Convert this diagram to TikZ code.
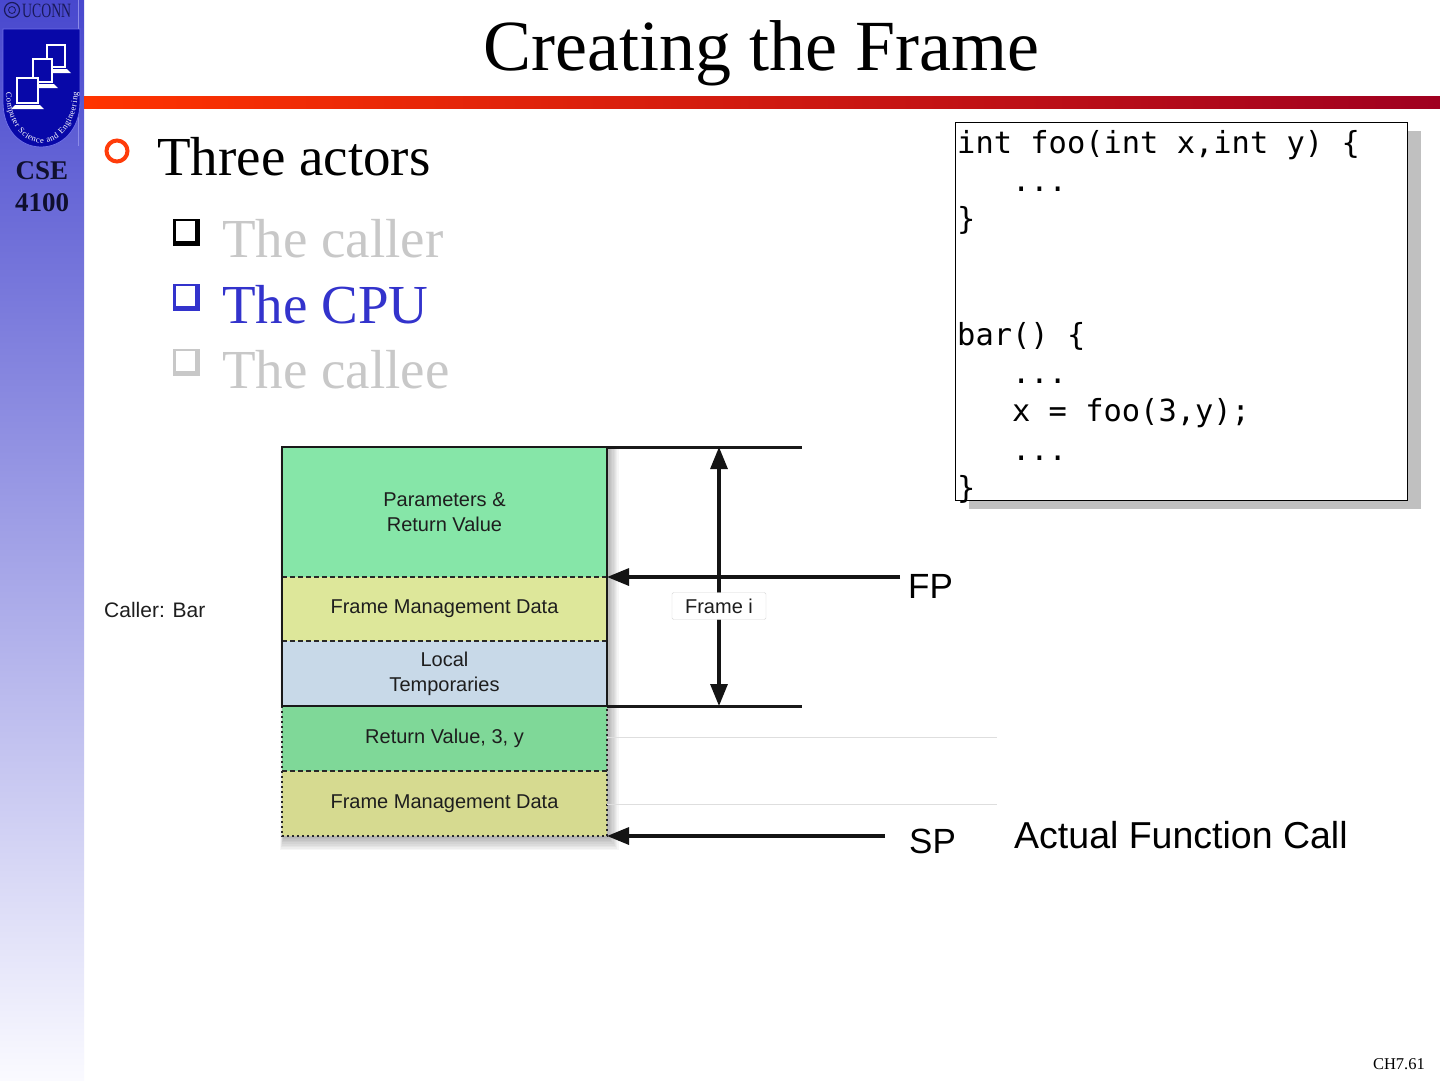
\documentclass[tikz,border=0pt]{standalone}
\usepackage{fontspec}
\setmainfont{Liberation Serif}
\setsansfont{Liberation Sans}
\setmonofont{DejaVu Sans Mono}
\usetikzlibrary{arrows.meta,positioning,decorations.text}
\definecolor{sidetop}{RGB}{72,72,206}
\definecolor{sidebot}{RGB}{250,250,255}
\definecolor{shieldblue}{RGB}{8,8,168}
\definecolor{barleft}{RGB}{255,52,0}
\definecolor{barright}{RGB}{160,0,32}
\definecolor{ringred}{RGB}{255,60,10}
\definecolor{fadegray}{RGB}{200,200,200}
\definecolor{cpublue}{RGB}{51,51,204}
\definecolor{paramgreen}{RGB}{134,230,168}
\definecolor{mgmtyellow}{RGB}{221,231,154}
\definecolor{localblue}{RGB}{200,217,232}
\definecolor{retgreen}{RGB}{127,216,152}
\definecolor{mgmtyellowb}{RGB}{214,218,144}
\def\sqbullet(#1,#2)#3{\fill[#3] (#1,#2) rectangle ++(27,27); \fill[white, shift={(#1,#2)}] (3,2) rectangle (22,22);}

\begin{document}
\begin{tikzpicture}[x=1pt, y=-1pt,
    arr/.style={line width=3.2pt, draw={rgb,255:red,20;green,20;blue,20}, -{Triangle[length=22pt,width=17pt]}},
    dblarr/.style={arr, {Triangle[length=22pt,width=17pt]}-{Triangle[length=22pt,width=17pt]}},
    frameline/.style={line width=3pt, draw={rgb,255:red,25;green,25;blue,25}},
    row/.style={minimum width=325pt, inner sep=0pt, outer sep=0pt, align=center,
        font=\sffamily\fontsize{20}{25}\selectfont, text={rgb,255:red,30;green,30;blue,30}},
    code/.style={anchor=base west, inner sep=0pt, font=\ttfamily\fontsize{30.4}{38}\selectfont},
    item/.style={anchor=base west, inner sep=0pt, font=\fontsize{55}{60}\selectfont}]
    %%%%% START %%%%%

    \useasboundingbox (0,0) rectangle (1440,1080);
    \fill[white] (0,0) rectangle (1440,1080);

    % side bar and logo
    \shade[top color=sidetop, bottom color=sidebot] (0,0) rectangle (84,1080);
    \draw[color={rgb,255:red,140;green,140;blue,232}] (78,0) -- (78,146);
    \draw[line width=1.2pt, color={rgb,255:red,25;green,25;blue,90}] (12,10) circle (7.5);
    \draw[line width=0.8pt, color={rgb,255:red,25;green,25;blue,90}] (12,10) circle (3.5);
    \node[anchor=west, inner sep=0pt, xscale=0.95, yscale=1.4, color={rgb,255:red,25;green,25;blue,90},
        font=\fontsize{14.5}{15}\selectfont] (uconn) at (22,11) {UCONN};
    \filldraw[fill=shieldblue, draw={rgb,255:red,110;green,110;blue,230}, line width=0.8pt]
        (3,29) -- (80,29) -- (80,102) .. controls (80,130) and (62,147) .. (41,147)
        .. controls (20,147) and (3,130) .. (3,102) -- cycle;
    \foreach \mx/\my/\ms in {47/45/18, 33/59/19, 17/78/21}{
        \filldraw[fill=shieldblue, draw=white, line width=2.8pt] (\mx,\my) rectangle ++(\ms,\ms+4);
        \fill[white] (\mx-2,\my+\ms+6) -- ++(\ms+4,0) -- ++(4,4) -- ++(-\ms-12,0) -- cycle;
    }
    \path[decorate, decoration={text along path, text align=fit to path, text color=white,
        text={|\fontsize{8.5}{9}\selectfont|Computer Science and Engineering}}]
        (6,92) .. controls (8,160) and (75,160) .. (78,92);
    \node[font=\bfseries\fontsize{27}{30}\selectfont, color={rgb,255:red,15;green,15;blue,45}] (cse) at (42,171) {CSE};
    \node[font=\bfseries\fontsize{27}{30}\selectfont, color={rgb,255:red,15;green,15;blue,45}] (num) at (42,203) {4100};

    % title
    \node[anchor=base, inner sep=0pt, font=\fontsize{72}{80}\selectfont] (title) at (761.5,70) {Creating the Frame};
    \shade[left color=barleft, right color=barright] (84,96) rectangle (1440,108);

    % bullets
    \draw[ringred, line width=4pt] (117,151) circle (10.5);
    \node[item] (actors) at (157,175) {Three actors};
    \sqbullet(173,219){black}
    \node[item, text=fadegray] (caller) at (222,257) {The caller};
    \sqbullet(173,284){cpublue}
    \node[item, text=cpublue] (cpu) at (222,323) {The CPU};
    \sqbullet(173,349){fadegray}
    \node[item, text=fadegray] (callee) at (222,388) {The callee};

    % code box
    \fill[color={rgb,255:red,192;green,192;blue,192}] (969,131) rectangle (1421,509);
    \filldraw[fill=white, draw=black, line width=1pt] (955,122) rectangle (1407,500);
    \node[code] (l0) at (957,153) {int foo(int x,int y) \{};
    \node[code] (l1) at (957,191.4) {\phantom{xxx}...};
    \node[code] (l2) at (957,229.8) {\}};
    \node[code] (l5) at (957,345) {bar() \{};
    \node[code] (l6) at (957,383.4) {\phantom{xxx}...};
    \node[code] (l7) at (957,421.8) {\phantom{xxx}x = foo(3,y);};
    \node[code] (l8) at (957,460.2) {\phantom{xxx}...};
    \node[code] (l9) at (957,498.6) {\}};

    % stack shadow
    \foreach \s in {1,...,9}
        \fill[black, opacity=0.035] (284-\s*0.4,449) rectangle (607+\s*1.3,836+\s*1.6);

    % stack rows
    \node[row, fill=paramgreen, minimum height=130pt] (params) at (444.5,512) {Parameters \&\\Return Value};
    \node[row, fill=mgmtyellow, minimum height=64pt, below=0pt of params] (mgmt) {Frame Management Data};
    \node[row, fill=localblue, minimum height=65pt, below=0pt of mgmt] (locals) {Local\\Temporaries};
    \node[row, fill=retgreen, minimum height=65pt, below=0pt of locals] (retv) {Return Value, 3, y};
    \node[row, fill=mgmtyellowb, minimum height=65pt, below=0pt of retv] (mgmtb) {Frame Management Data};

    \draw[line width=1.5pt, dash pattern=on 5pt off 3pt, color={rgb,255:red,40;green,40;blue,40}] (mgmt.north west) -- (mgmt.north east);
    \draw[line width=1.5pt, dash pattern=on 5pt off 3pt, color={rgb,255:red,40;green,40;blue,40}] (locals.north west) -- (locals.north east);
    \draw[line width=1.5pt, dash pattern=on 5pt off 3pt, color={rgb,255:red,40;green,40;blue,40}] (mgmtb.north west) -- (mgmtb.north east);
    \draw[line width=1.5pt, dash pattern=on 2pt off 3pt, color={rgb,255:red,40;green,40;blue,40}] (retv.north west) rectangle (mgmtb.south east);
    \draw[line width=2pt, color={rgb,255:red,25;green,25;blue,25}] (params.north west) rectangle (locals.south east);

    \node[anchor=base west, inner sep=0pt, font=\sffamily\fontsize{21}{25}\selectfont,
        text={rgb,255:red,30;green,30;blue,30}] (callerbar) at (104,617) {Caller: Bar};

    % frame markers
    \draw[frameline] (params.north east) -- ++(195,0) coordinate (topEnd);
    \draw[frameline] (locals.south east) -- ++(195,0) coordinate (botEnd);
    \draw[color={rgb,255:red,222;green,222;blue,222}, line width=1pt] (607,737) -- (997,737);
    \draw[color={rgb,255:red,222;green,222;blue,222}, line width=1pt] (607,804) -- (997,804);

    \coordinate (fTop) at (719,447);
    \coordinate (fBot) at (719,706);
    \draw[dblarr] (fBot) -- (fTop);
    \node[fill=white, draw={rgb,255:red,215;green,215;blue,215}, rounded corners=1.5pt, inner sep=0pt,
        minimum width=94pt, minimum height=27pt, font=\sffamily\fontsize{20}{24}\selectfont,
        text={rgb,255:red,30;green,30;blue,30}] (framei) at (719,606) {Frame i};

    \coordinate (fpTail) at (900,577);
    \coordinate (spTail) at (885,836);
    \draw[arr] (fpTail) -- (mgmt.north east);
    \draw[arr] (spTail) -- (mgmtb.south east);
    \node[anchor=base west, inner sep=0pt, font=\sffamily\fontsize{35}{35}\selectfont] (fp) at (908,598) {FP};
    \node[anchor=base west, inner sep=0pt, font=\sffamily\fontsize{35}{35}\selectfont] (sp) at (909,853) {SP};

    \node[anchor=base west, inner sep=0pt, font=\sffamily\fontsize{37.5}{40}\selectfont] (actual) at (1014,848) {Actual Function Call};

    \node[anchor=base east, inner sep=0pt, font=\fontsize{16.5}{18}\selectfont] (page) at (1425,1069) {CH7.61};

    %%%%% END %%%%%
\end{tikzpicture}
\end{document}
